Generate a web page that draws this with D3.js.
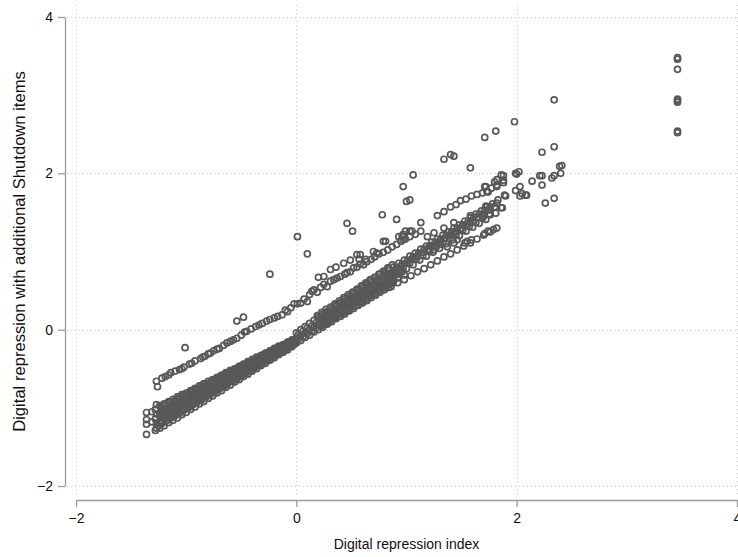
<!DOCTYPE html>
<html>
<head>
<meta charset="utf-8">
<script src="https://cdn.jsdelivr.net/npm/d3@7"></script>
<style>
  html, body { margin: 0; padding: 0; background: #fff; }
  svg { display: block; font-family: "Liberation Sans", Arial, Helvetica, sans-serif; }
</style>
</head>
<body>
<svg id="chart" width="738" height="557"></svg>
<script>
// Axis ticks
const xTicks = [-2, 0, 2, 4];
const yTicks = [-2, 0, 2, 4];

// Main dense band, left of zero (x = index, y = index with shutdown items)
const bandLeft = [
  [-1.24,-0.97],[-1.20,-0.95],[-1.16,-0.92],[-1.12,-0.89],[-1.08,-0.86],[-1.04,-0.83],[-1.00,-0.81],[-0.96,-0.78],[-0.92,-0.75],[-0.88,-0.72],[-0.84,-0.69],[-0.80,-0.66],[-0.76,-0.64],[-0.72,-0.61],[-0.68,-0.58],[-0.64,-0.55],[-0.60,-0.52],[-0.56,-0.50],[-0.52,-0.47],[-0.48,-0.44],[-0.44,-0.41],[-0.40,-0.38],[-0.36,-0.35],[-0.32,-0.33],[-0.28,-0.30],[-0.24,-0.27],[-0.20,-0.24],[-0.16,-0.21],[-0.12,-0.19],[-0.08,-0.16],[-0.04,-0.13],
  [-1.23,-0.99],[-1.19,-0.96],[-1.15,-0.93],[-1.11,-0.91],[-1.07,-0.88],[-1.03,-0.85],[-0.99,-0.82],[-0.95,-0.79],[-0.91,-0.76],[-0.87,-0.73],[-0.83,-0.70],[-0.79,-0.68],[-0.75,-0.65],[-0.71,-0.62],[-0.67,-0.59],[-0.63,-0.56],[-0.59,-0.53],[-0.55,-0.50],[-0.51,-0.47],[-0.47,-0.45],[-0.43,-0.42],[-0.39,-0.39],[-0.35,-0.36],[-0.31,-0.33],[-0.27,-0.30],[-0.23,-0.27],[-0.19,-0.24],[-0.15,-0.22],[-0.11,-0.19],[-0.07,-0.16],[-0.03,-0.13],
  [-1.22,-1.01],[-1.18,-0.98],[-1.14,-0.95],[-1.10,-0.92],[-1.06,-0.89],[-1.02,-0.86],[-0.98,-0.83],[-0.94,-0.80],[-0.90,-0.77],[-0.86,-0.74],[-0.82,-0.72],[-0.78,-0.69],[-0.74,-0.66],[-0.70,-0.63],[-0.66,-0.60],[-0.62,-0.57],[-0.58,-0.54],[-0.54,-0.51],[-0.50,-0.48],[-0.46,-0.45],[-0.42,-0.42],[-0.38,-0.39],[-0.34,-0.36],[-0.30,-0.33],[-0.26,-0.31],[-0.22,-0.28],[-0.18,-0.25],[-0.14,-0.22],[-0.10,-0.19],[-0.06,-0.16],[-0.02,-0.13],
  [-1.21,-1.03],[-1.17,-1.00],[-1.13,-0.97],[-1.09,-0.94],[-1.05,-0.91],[-1.01,-0.88],[-0.97,-0.85],[-0.93,-0.82],[-0.89,-0.79],[-0.85,-0.76],[-0.81,-0.73],[-0.77,-0.70],[-0.73,-0.67],[-0.69,-0.64],[-0.65,-0.61],[-0.61,-0.58],[-0.57,-0.55],[-0.53,-0.52],[-0.49,-0.49],[-0.45,-0.46],[-0.41,-0.43],[-0.37,-0.40],[-0.33,-0.37],[-0.29,-0.34],[-0.25,-0.31],[-0.21,-0.28],[-0.17,-0.25],[-0.13,-0.22],[-0.09,-0.19],[-0.05,-0.16],[-0.01,-0.13],
  [-1.24,-1.07],[-1.20,-1.04],[-1.16,-1.01],[-1.12,-0.98],[-1.08,-0.95],[-1.04,-0.92],[-1.00,-0.89],[-0.96,-0.86],[-0.92,-0.83],[-0.88,-0.80],[-0.84,-0.77],[-0.80,-0.74],[-0.76,-0.71],[-0.72,-0.68],[-0.68,-0.65],[-0.64,-0.62],[-0.60,-0.59],[-0.56,-0.55],[-0.52,-0.52],[-0.48,-0.49],[-0.44,-0.46],[-0.40,-0.43],[-0.36,-0.40],[-0.32,-0.37],[-0.28,-0.34],[-0.24,-0.31],[-0.20,-0.28],[-0.16,-0.25],[-0.12,-0.22],[-0.08,-0.19],[-0.04,-0.16],
  [-1.23,-1.09],[-1.19,-1.06],[-1.15,-1.03],[-1.11,-1.00],[-1.07,-0.96],[-1.03,-0.93],[-0.99,-0.90],[-0.95,-0.87],[-0.91,-0.84],[-0.87,-0.81],[-0.83,-0.78],[-0.79,-0.75],[-0.75,-0.72],[-0.71,-0.69],[-0.67,-0.65],[-0.63,-0.62],[-0.59,-0.59],[-0.55,-0.56],[-0.51,-0.53],[-0.47,-0.50],[-0.43,-0.47],[-0.39,-0.44],[-0.35,-0.41],[-0.31,-0.38],[-0.27,-0.34],[-0.23,-0.31],[-0.19,-0.28],[-0.15,-0.25],[-0.11,-0.22],[-0.07,-0.19],[-0.03,-0.16],
  [-1.22,-1.11],[-1.18,-1.07],[-1.14,-1.04],[-1.10,-1.01],[-1.06,-0.98],[-1.02,-0.95],[-0.98,-0.92],[-0.94,-0.88],[-0.90,-0.85],[-0.86,-0.82],[-0.82,-0.79],[-0.78,-0.76],[-0.74,-0.73],[-0.70,-0.69],[-0.66,-0.66],[-0.62,-0.63],[-0.58,-0.60],[-0.54,-0.57],[-0.50,-0.54],[-0.46,-0.51],[-0.42,-0.47],[-0.38,-0.44],[-0.34,-0.41],[-0.30,-0.38],[-0.26,-0.35],[-0.22,-0.32],[-0.18,-0.28],[-0.14,-0.25],[-0.10,-0.22],[-0.06,-0.19],[-0.02,-0.16],
  [-1.21,-1.12],[-1.17,-1.09],[-1.13,-1.06],[-1.09,-1.02],[-1.05,-0.99],[-1.01,-0.96],[-0.97,-0.93],[-0.93,-0.90],[-0.89,-0.86],[-0.85,-0.83],[-0.81,-0.80],[-0.77,-0.77],[-0.73,-0.74],[-0.69,-0.70],[-0.65,-0.67],[-0.61,-0.64],[-0.57,-0.61],[-0.53,-0.58],[-0.49,-0.54],[-0.45,-0.51],[-0.41,-0.48],[-0.37,-0.45],[-0.33,-0.41],[-0.29,-0.38],[-0.25,-0.35],[-0.21,-0.32],[-0.17,-0.29],[-0.13,-0.25],[-0.09,-0.22],[-0.05,-0.19],[-0.01,-0.16],
  [-1.24,-1.17],[-1.20,-1.14],[-1.16,-1.10],[-1.12,-1.07],[-1.08,-1.04],[-1.04,-1.01],[-1.00,-0.97],[-0.96,-0.94],[-0.92,-0.91],[-0.88,-0.88],[-0.84,-0.84],[-0.80,-0.81],[-0.76,-0.78],[-0.72,-0.74],[-0.68,-0.71],[-0.64,-0.68],[-0.60,-0.65],[-0.56,-0.61],[-0.52,-0.58],[-0.48,-0.55],[-0.44,-0.52],[-0.40,-0.48],[-0.36,-0.45],[-0.32,-0.42],[-0.28,-0.39],[-0.24,-0.35],[-0.20,-0.32],[-0.16,-0.29],[-0.12,-0.25],[-0.08,-0.22],[-0.04,-0.19],
  [-1.23,-1.19],[-1.19,-1.15],[-1.15,-1.12],[-1.11,-1.09],[-1.07,-1.05],[-1.03,-1.02],[-0.99,-0.99],[-0.95,-0.95],[-0.91,-0.92],[-0.87,-0.89],[-0.83,-0.85],[-0.79,-0.82],[-0.75,-0.79],[-0.71,-0.75],[-0.67,-0.72],[-0.63,-0.69],[-0.59,-0.65],[-0.55,-0.62],[-0.51,-0.59],[-0.47,-0.55],[-0.43,-0.52],[-0.39,-0.49],[-0.35,-0.45],[-0.31,-0.42],[-0.27,-0.39],[-0.23,-0.35],[-0.19,-0.32],[-0.15,-0.29],[-0.11,-0.25],[-0.07,-0.22],[-0.03,-0.19],
  [-1.22,-1.20],[-1.18,-1.17],[-1.14,-1.13],[-1.10,-1.10],[-1.06,-1.07],[-1.02,-1.03],[-0.98,-1.00],[-0.94,-0.96],[-0.90,-0.93],[-0.86,-0.90],[-0.82,-0.86],[-0.78,-0.83],[-0.74,-0.80],[-0.70,-0.76],[-0.66,-0.73],[-0.62,-0.69],[-0.58,-0.66],[-0.54,-0.63],[-0.50,-0.59],[-0.46,-0.56],[-0.42,-0.53],[-0.38,-0.49],[-0.34,-0.46],[-0.30,-0.42],[-0.26,-0.39],[-0.22,-0.36],[-0.18,-0.32],[-0.14,-0.29],[-0.10,-0.26],[-0.06,-0.22],[-0.02,-0.19],
  [-1.24,-1.26],[-1.20,-1.23],[-1.16,-1.19],[-1.12,-1.16],[-1.08,-1.13],[-1.04,-1.09],[-1.00,-1.06],[-0.96,-1.02],[-0.92,-0.99],[-0.88,-0.95],[-0.84,-0.92],[-0.80,-0.88],[-0.76,-0.85],[-0.72,-0.81],[-0.68,-0.78],[-0.64,-0.74],[-0.60,-0.71],[-0.56,-0.67],[-0.52,-0.64],[-0.48,-0.60],[-0.44,-0.57],[-0.40,-0.53],[-0.36,-0.50],[-0.32,-0.46],[-0.28,-0.43],[-0.24,-0.39],[-0.20,-0.36],[-0.16,-0.32],[-0.12,-0.29],[-0.08,-0.26],[-0.04,-0.22]
];

// Lowest index values at the left end
const leftEnd = [
  [-1.27,-0.96],[-1.28,-1.02],[-1.27,-1.08],[-1.28,-1.14],[-1.27,-1.20],[-1.27,-1.26],[-1.28,-1.29],
  [-1.36,-1.06],[-1.36,-1.15],[-1.36,-1.21],[-1.36,-1.34],[-1.31,-1.05],[-1.31,-1.18],[-1.25,-1.23]
];

// Main dense band, right of zero
const bandRight = [
  [0.19,0.18],[0.23,0.22],[0.27,0.26],[0.31,0.29],[0.35,0.33],[0.39,0.37],[0.43,0.41],[0.47,0.45],[0.51,0.48],[0.55,0.52],[0.59,0.56],[0.63,0.60],[0.67,0.64],[0.71,0.67],[0.75,0.71],[0.79,0.75],[0.83,0.79],[0.87,0.83],
  [0.00,-0.04],[0.04,0.00],[0.08,0.04],[0.12,0.08],[0.16,0.12],[0.20,0.16],[0.24,0.20],[0.28,0.23],[0.32,0.27],[0.36,0.31],[0.40,0.35],[0.44,0.39],[0.48,0.43],[0.52,0.47],[0.56,0.51],[0.60,0.55],[0.64,0.59],[0.68,0.63],[0.72,0.67],[0.76,0.71],[0.80,0.74],[0.84,0.78],
  [0.21,0.14],[0.25,0.18],[0.29,0.22],[0.33,0.26],[0.37,0.30],[0.41,0.34],[0.45,0.37],[0.49,0.41],[0.53,0.45],[0.57,0.49],[0.61,0.53],[0.65,0.57],[0.69,0.61],[0.73,0.64],[0.77,0.68],[0.81,0.72],[0.85,0.76],
  [0.02,-0.06],[0.06,-0.02],[0.10,0.02],[0.14,0.05],[0.18,0.09],[0.22,0.13],[0.26,0.17],[0.30,0.21],[0.34,0.24],[0.38,0.28],[0.42,0.32],[0.46,0.36],[0.50,0.40],[0.54,0.43],[0.58,0.47],[0.62,0.51],[0.66,0.55],[0.70,0.59],[0.74,0.62],[0.78,0.66],[0.82,0.70],
  [0.23,0.12],[0.27,0.16],[0.31,0.20],[0.35,0.23],[0.39,0.27],[0.43,0.31],[0.47,0.34],[0.51,0.38],[0.55,0.42],[0.59,0.46],[0.63,0.49],[0.67,0.53],[0.71,0.57],[0.75,0.60],[0.79,0.64],[0.83,0.68],[0.87,0.72],
  [0.00,-0.11],[0.04,-0.07],[0.08,-0.04],[0.12,0.00],[0.16,0.04],[0.20,0.07],[0.24,0.11],[0.28,0.15],[0.32,0.18],[0.36,0.22],[0.40,0.25],[0.44,0.29],[0.48,0.33],[0.52,0.36],[0.56,0.40],[0.60,0.44],[0.64,0.47],[0.68,0.51],[0.72,0.55],[0.76,0.58],[0.80,0.62],[0.84,0.65],
  [0.21,0.06],[0.25,0.10],[0.29,0.14],[0.33,0.17],[0.37,0.21],[0.41,0.24],[0.45,0.28],[0.49,0.31],[0.53,0.35],[0.57,0.39],[0.61,0.42],[0.65,0.46],[0.69,0.49],[0.73,0.53],[0.77,0.56],[0.81,0.60],[0.85,0.64],
  [0.02,-0.12],[0.06,-0.09],[0.10,-0.05],[0.14,-0.02],[0.18,0.02],[0.22,0.05],[0.26,0.09],[0.30,0.12],[0.34,0.16],[0.38,0.19],[0.42,0.23],[0.46,0.27],[0.50,0.30],[0.54,0.34],[0.58,0.37],[0.62,0.41],[0.66,0.44],[0.70,0.48],[0.74,0.51],[0.78,0.55],[0.82,0.58],
  [0.23,0.05],[0.27,0.08],[0.31,0.12],[0.35,0.15],[0.39,0.19],[0.43,0.22],[0.47,0.25],[0.51,0.29],[0.55,0.32],[0.59,0.36],[0.63,0.39],[0.67,0.43],[0.71,0.46],[0.75,0.50],[0.79,0.53],[0.83,0.57],[0.87,0.60],
  [0.00,-0.17],[0.04,-0.14],[0.08,-0.10],[0.12,-0.07],[0.16,-0.03],[0.20,0.00],[0.24,0.03],[0.28,0.07],[0.32,0.10],[0.36,0.14],[0.40,0.17],[0.44,0.20],[0.48,0.24],[0.52,0.27],[0.56,0.31],[0.60,0.34],[0.64,0.37],[0.68,0.41],[0.72,0.44],[0.76,0.48],[0.80,0.51],[0.84,0.54],
  [0.88,0.72],[0.90,0.70],[0.92,0.66],[0.94,0.77],[0.86,0.62],[0.88,0.60],[0.92,0.71],[0.96,0.74],[0.98,0.70]
];

// Strands above index 0.85
const strands = [
  [0.88,0.80],[0.93,0.85],[0.98,0.89],[1.03,0.94],[1.08,0.98],[1.13,1.03],[1.18,1.07],[1.23,1.12],[1.28,1.16],[1.33,1.21],[1.38,1.25],[1.43,1.30],[1.48,1.34],[1.53,1.39],[1.58,1.43],[1.63,1.48],[1.68,1.52],[1.73,1.57],[1.78,1.61],[1.83,1.66],
  [0.91,0.80],[0.96,0.84],[1.01,0.89],[1.06,0.93],[1.11,0.98],[1.16,1.03],[1.21,1.07],[1.26,1.12],[1.31,1.16],[1.36,1.21],[1.41,1.25],[1.46,1.30],[1.51,1.34],[1.56,1.39],[1.61,1.44],[1.66,1.48],[1.71,1.53],[1.76,1.57],
  [0.90,0.76],[0.95,0.81],[1.00,0.85],[1.05,0.90],[1.10,0.94],[1.15,0.99],[1.20,1.03],[1.25,1.08],[1.30,1.12],[1.35,1.17],[1.40,1.21],[1.45,1.26],[1.50,1.30],[1.55,1.35],[1.60,1.39],[1.65,1.44],[1.70,1.48],[1.75,1.53],[1.80,1.57],
  [0.91,0.74],[0.97,0.79],[1.03,0.85],[1.09,0.90],[1.15,0.95],[1.21,1.00],[1.27,1.06],[1.33,1.11],[1.39,1.16],[1.45,1.22],[1.51,1.27],[1.57,1.32],[1.63,1.37],[1.69,1.43],[1.75,1.48],
  [0.88,0.67],[0.94,0.73],[1.00,0.78],[1.06,0.83],[1.12,0.89],[1.18,0.94],[1.24,0.99],[1.30,1.04],[1.36,1.10],[1.42,1.15],[1.48,1.20],[1.54,1.26],[1.60,1.31],[1.66,1.36],[1.72,1.41],
  [0.86,0.55],[0.92,0.60],[0.98,0.64],[1.04,0.69],[1.10,0.74],[1.16,0.78],[1.22,0.83],[1.28,0.88],[1.34,0.93],[1.40,0.97],[1.46,1.02],[1.52,1.07],[1.58,1.11],[1.64,1.16],[1.70,1.21],[1.76,1.25],[1.82,1.30],
  [1.86,1.56],[1.81,1.49],[1.76,1.47],[1.79,1.28],[1.74,1.26],[1.71,1.23],[1.59,1.15],[1.53,1.11],[1.37,1.06],[1.22,1.07],[1.31,1.09],[1.43,1.11],[1.55,1.13],[1.25,1.02],[1.46,1.15],
  [1.90,1.71],[1.72,1.58],[1.82,1.62],[1.87,1.56],[1.70,1.45],[1.58,1.46],[1.58,1.37],[1.49,1.28],[1.43,1.24]
];

// Upper sparse line
const upperLine = [
  [-1.27,-0.66],[-1.26,-0.73],[-1.22,-0.62],[-1.19,-0.60],[-1.16,-0.58],[-1.14,-0.55],[-1.10,-0.53],[-1.06,-0.51],[-1.04,-0.50],[-1.02,-0.48],[-0.97,-0.44],[-0.95,-0.43],[-0.92,-0.40],[-0.87,-0.37],[-0.85,-0.35],[-0.83,-0.34],[-0.80,-0.31],[-0.78,-0.30],[-0.75,-0.27],[-0.72,-0.25],[-0.70,-0.24],[-0.66,-0.20],[-0.63,-0.17],[-0.60,-0.15],[-0.57,-0.13],[-0.54,-0.11],[-0.50,-0.07],[-0.47,-0.03],[-0.45,-0.02],[-0.41,0.01],[-0.37,0.04],[-0.34,0.06],[-0.31,0.08],[-0.27,0.11],[-0.24,0.13],[-0.20,0.15],[-0.17,0.17],[-0.13,0.19],[-0.10,0.25],[-0.08,0.23],[-0.05,0.28],[-0.02,0.33],[0.01,0.33],[0.04,0.34],[0.07,0.39],[0.10,0.36],[0.12,0.45],[0.14,0.49],[0.16,0.51],[0.19,0.48],[0.22,0.54],[0.25,0.58],[0.28,0.55],[0.31,0.62],[0.34,0.64],[0.37,0.66],[0.40,0.68],[0.44,0.71],[0.46,0.73],[0.49,0.74],[0.52,0.79],[0.55,0.80],[0.58,0.84],[0.61,0.83],[0.64,0.87],[0.68,0.90],[0.71,0.93],[0.75,0.97],[0.79,0.99],[0.83,1.02],[0.87,1.06],[0.91,1.09],[0.95,1.13],[0.99,1.16],[1.03,1.19],[1.08,1.22],[1.13,1.26],[1.19,1.19],[1.25,1.24],[1.34,1.30],[1.43,1.37],
  [1.28,1.46],[1.34,1.51],[1.40,1.57],[1.45,1.60],[1.49,1.65],[1.54,1.67],[1.59,1.71],[1.64,1.73],[1.69,1.75],[1.73,1.77],[1.77,1.81],[1.82,1.83],[1.88,1.88]
];

// Second, shorter upper line
const upperLine2 = [
  [0.20,0.67],[0.25,0.68],[0.31,0.77],[0.36,0.80],[0.43,0.85],[0.49,0.89],[0.55,0.96],[0.57,0.90],[0.63,0.90],[0.58,0.96],[0.70,1.00],[0.73,0.98],[0.79,1.13],[0.81,1.13],[0.93,1.19],[0.96,1.19],[0.97,1.15],[1.03,1.26],[1.05,1.26],[0.99,1.26],[0.97,1.22]
];

// Top of the range around index 2
const highGroup = [
  [1.72,1.83],[1.80,1.89],[1.82,1.92],[1.82,1.85],[1.86,1.98],[1.88,1.91],[1.88,1.97],[1.71,1.83],[1.74,1.76],[1.89,1.72],
  [1.99,2.00],[2.02,2.02],[2.00,1.99],[1.99,1.78],[2.03,1.83],[2.05,1.74],[2.09,1.72],[2.03,1.71],[2.08,1.72],[2.14,1.90],
  [2.21,1.97],[2.23,1.97],[2.23,1.85],[2.32,1.94],[2.34,1.97],[2.39,2.09],[2.41,2.10],[2.40,2.00],[2.26,1.62],[2.34,1.68]
];

// Scattered high values
const outliers = [
  [-1.01,-0.23],[-0.54,0.11],[-0.48,0.16],[-0.24,0.71],[0.01,1.19],[0.10,0.97],[0.46,1.36],[0.51,1.26],
  [0.78,1.47],[0.91,1.41],[0.97,1.83],[1.06,1.98],[1.00,1.64],[1.03,1.66],[1.13,1.37],[1.34,2.18],
  [1.40,2.24],[1.43,2.22],[1.58,2.07],[1.71,2.46],[1.81,2.54],[1.98,2.66],[2.23,2.27],[2.34,2.34],[2.34,2.94]
];

// Maximum index value
const maxGroup = [
  [3.46,3.48],[3.46,3.46],[3.46,3.33],[3.46,2.95],[3.46,2.93],[3.46,2.91],[3.46,2.54],[3.46,2.52]
];

const allPoints = [].concat(bandLeft, leftEnd, bandRight, strands, upperLine, upperLine2, highGroup, outliers, maxGroup);

const svg = d3.select("#chart");
const x = d3.scaleLinear().domain([-2, 4]).range([76, 737]);
const y = d3.scaleLinear().domain([-2, 4]).range([486, 17]);

// Dotted grid
const grid = svg.append("g").attr("stroke", "#c9c9c9").attr("stroke-width", 1).attr("stroke-dasharray", "1,3");
grid.selectAll("line.v").data(xTicks).join("line")
  .attr("x1", d => Math.round(x(d)) + 0.5).attr("x2", d => Math.round(x(d)) + 0.5)
  .attr("y1", 5).attr("y2", 495);
grid.selectAll("line.h").data(yTicks).join("line")
  .attr("y1", d => Math.round(y(d)) + 0.5).attr("y2", d => Math.round(y(d)) + 0.5)
  .attr("x1", 67).attr("x2", 738);

// Points
svg.append("g")
  .selectAll("circle").data(allPoints).join("circle")
  .attr("cx", d => x(d[0]))
  .attr("cy", d => y(d[1]))
  .attr("r", 3)
  .attr("fill", "none")
  .attr("stroke", "#585858")
  .attr("stroke-width", 1.7);

// Axes
const yAxis = svg.append("g").attr("transform", "translate(65,0)")
  .call(d3.axisLeft(y).tickValues(yTicks).tickSize(7).tickSizeOuter(0).tickPadding(5).tickFormat(d3.format("d")));
const xAxis = svg.append("g").attr("transform", "translate(0,500)")
  .call(d3.axisBottom(x).tickValues(xTicks).tickSize(7).tickSizeOuter(0).tickPadding(6).tickFormat(d3.format("d")));

[yAxis, xAxis].forEach(g => {
  g.select(".domain").attr("stroke", "#9c9c9c").attr("stroke-width", 1.3);
  g.selectAll(".tick line").attr("stroke", "#9c9c9c").attr("stroke-width", 1.3);
  g.selectAll(".tick text").attr("fill", "#111").attr("font-size", 14)
    .attr("font-family", "'Liberation Sans', Arial, sans-serif");
});

// Axis titles
svg.append("text")
  .attr("x", (x(-2) + x(4)) / 2).attr("y", 549)
  .attr("text-anchor", "middle").attr("font-size", 14).attr("fill", "#111")
  .text("Digital repression index");
svg.append("text")
  .attr("transform", `translate(25,${(y(-2) + y(4)) / 2}) rotate(-90)`)
  .attr("text-anchor", "middle").attr("font-size", 16.6).attr("fill", "#111")
  .text("Digital repression with additional Shutdown items");
</script>
</body>
</html>
